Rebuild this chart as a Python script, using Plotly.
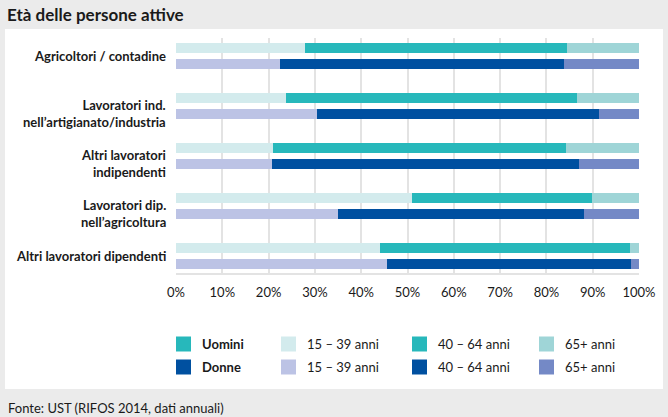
import plotly.graph_objects as go

# ---------------- data ----------------
categories = [
    "Agricoltori / contadine",
    "Lavoratori ind.<br>nell’artigianato/industria",
    "Altri lavoratori<br>indipendenti",
    "Lavoratori dip.<br>nell’agricoltura",
    "Altri lavoratori dipendenti",
]
age_groups = ["15 – 39 anni", "40 – 64 anni", "65+ anni"]
uomini_15_39 = [27.8, 23.7, 21.0, 50.9, 44.0]
uomini_40_64 = [56.6, 63.0, 63.2, 39.0, 54.0]
uomini_65 = [15.6, 13.3, 15.8, 10.1, 2.0]
donne_15_39 = [22.4, 30.5, 20.7, 34.9, 45.5]
donne_40_64 = [61.3, 60.9, 66.4, 53.3, 52.8]
donne_65 = [16.3, 8.6, 12.9, 11.8, 1.7]
x_ticks = [0, 10, 20, 30, 40, 50, 60, 70, 80, 90, 100]
x_ticktext = [f"{v}%" for v in x_ticks]
sex_labels = ["Uomini", "Donne"]

# ---------------- style ----------------
W, H = 668, 417
L, R, T, B = 176, 29, 38, 144
uomini_colors = ["#d3ebed", "#27b8bb", "#9fd5d7"]
donne_colors = ["#bcc3e5", "#0050a0", "#7489c6"]
FONT = "Lato, Roboto, sans-serif"
TXT = "#1a1a1a"
GRID = "#e3e3e3"
BG = "#ebebeb"

idx = list(range(len(categories)))
y_u = [i - 0.16 for i in idx]
y_d = [i + 0.16 for i in idx]

fig = go.Figure()
for vals, col, name in zip([uomini_15_39, uomini_40_64, uomini_65], uomini_colors, age_groups):
    fig.add_trace(go.Bar(x=vals, y=y_u, orientation="h", marker=dict(color=col, line_width=0),
                         width=0.2, name="Uomini " + name, showlegend=False))
for vals, col, name in zip([donne_15_39, donne_40_64, donne_65], donne_colors, age_groups):
    fig.add_trace(go.Bar(x=vals, y=y_d, orientation="h", marker=dict(color=col, line_width=0),
                         width=0.2, name="Donne " + name, showlegend=False))

pw, ph = W - L - R, H - T - B


def px(x):
    return (x - L) / pw


def py(y):
    return (H - B - y) / ph


shapes = [
    dict(type="rect", xref="paper", yref="paper", x0=px(5), x1=px(663), y0=py(29), y1=py(389),
         fillcolor="white", line_width=0, layer="below"),
]
annotations = []

# category labels
for i, cat in enumerate(categories):
    n_lines = cat.count("<br>") + 1
    annotations.append(dict(xref="paper", yref="y", x=px(168), y=i, xanchor="right",
                            yanchor="middle", yshift=-7 * (n_lines - 1), showarrow=False, align="right",
                            text=f"<b>{cat}</b>", font=dict(family=FONT, size=13, color=TXT)))

# legend (built as shapes + text)
col_sw = [176, 281, 412, 539]
row_y = [344, 367]
for r, (sex, cols) in enumerate(zip(sex_labels, [uomini_colors, donne_colors])):
    yc = row_y[r]
    items = [(cols[1], sex, True)] + [(c, a, False) for c, a in zip(cols, age_groups)]
    for c, (colr, text, bold) in enumerate(items):
        x0 = col_sw[c]
        shapes.append(dict(type="rect", xref="paper", yref="paper", x0=px(x0), x1=px(x0 + 15),
                           y0=py(yc + 7.5), y1=py(yc - 7.5), fillcolor=colr, line_width=0))
        annotations.append(dict(xref="paper", yref="paper", x=px(x0 + 24), y=py(yc),
                                xanchor="left", yanchor="middle", showarrow=False,
                                text=f"<b>{text}</b>" if bold else text,
                                font=dict(family=FONT, size=13, color=TXT)))

annotations.append(dict(xref="paper", yref="paper", x=px(6), y=py(408), xanchor="left", yanchor="middle",
                        showarrow=False, text="Fonte: UST (RIFOS 2014, dati annuali)",
                        font=dict(family=FONT, size=13, color=TXT)))

fig.update_layout(
    width=W, height=H, barmode="stack",
    margin=dict(l=L, r=R, t=T, b=B, autoexpand=False),
    paper_bgcolor=BG, plot_bgcolor="white",
    title=dict(text="<b>Età delle persone attive</b>", xref="container", yref="container",
               x=7 / W, y=1 - 15 / H, xanchor="left", yanchor="middle",
               font=dict(family=FONT, size=17, color=TXT)),
    xaxis=dict(range=[0, 100], tickvals=x_ticks, ticktext=x_ticktext, showgrid=True, gridcolor=GRID,
               gridwidth=1.5, zeroline=False, showline=True, linecolor=GRID, linewidth=1.5,
               ticks="", ticklabelstandoff=7, tickfont=dict(family=FONT, size=13, color=TXT),
               fixedrange=True, automargin=False),
    yaxis=dict(range=[4.34, -0.36], showticklabels=False, showgrid=False, zeroline=False,
               ticks="", automargin=False),
    shapes=shapes, annotations=annotations, showlegend=False,
)

fig.write_html("out.html")
